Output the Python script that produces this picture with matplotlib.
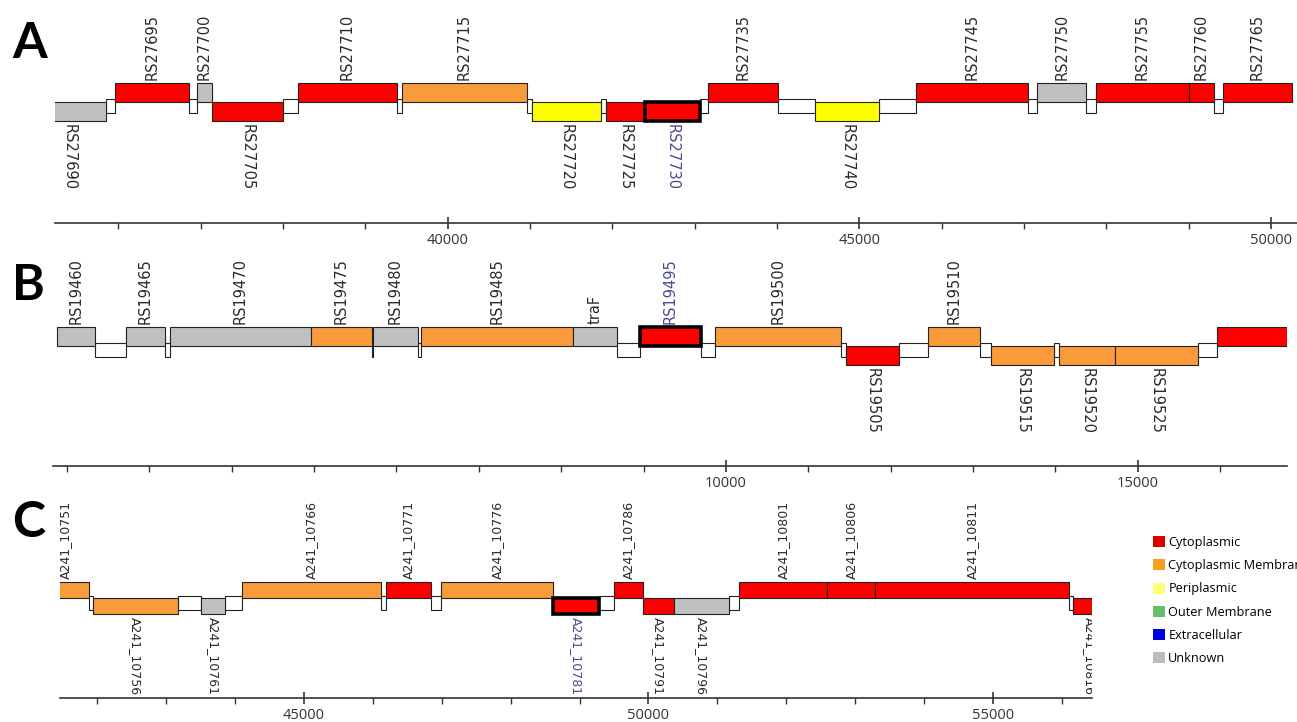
import matplotlib
matplotlib.use('Agg')
import matplotlib.pyplot as plt
from matplotlib.patches import Rectangle, Patch
from matplotlib.ticker import MultipleLocator, FixedLocator, StrMethodFormatter

# -- Localisation categories and colours.
loc_names = ['Cytoplasmic', 'Cytoplasmic Membrane', 'Periplasmic',
             'Outer Membrane', 'Extracellular', 'Unknown']
legend_colors = ['#dd0000', '#f5a020', '#ffff77', '#66c06a', '#0000dd', '#bcbcbc']
box_colors = {'Cytoplasmic': '#ff0000', 'Cytoplasmic Membrane': '#f99b3b',
              'Periplasmic': '#ffff00', 'Outer Membrane': '#66c06a',
              'Extracellular': '#0000dd', 'Unknown': '#c0c0c0'}

CYT, MEM, PER, UNK = 'Cytoplasmic', 'Cytoplasmic Membrane', 'Periplasmic', 'Unknown'

# -- Panel A.
a_names = ['RS27690', 'RS27695', 'RS27700', 'RS27705', 'RS27710', 'RS27715',
           'RS27720', 'RS27725', 'RS27730', 'RS27735', 'RS27740', 'RS27745',
           'RS27750', 'RS27755', 'RS27760', 'RS27765']
a_start = [34950, 35959, 36954, 37136, 38180, 39442, 41019, 41917, 42391,
           43167, 44466, 45692, 47160, 47876, 49005, 49417]
a_end = [35850, 36857, 37136, 37998, 39381, 40959, 41857, 42391, 43070,
         44017, 45243, 47051, 47755, 49005, 49308, 50250]
a_strand = [-1, 1, 1, -1, 1, 1, -1, -1, -1, 1, -1, 1, 1, 1, 1, 1]
a_loc = [UNK, CYT, UNK, CYT, CYT, MEM, PER, CYT, CYT, CYT, PER, CYT,
         UNK, CYT, CYT, CYT]
a_selected = 'RS27730'
a_major = [40000, 45000, 50000]

# -- Panel B.
b_names = ['RS19460', 'RS19465', 'RS19470', 'RS19475', 'RS19480', 'RS19485',
           'traF', 'RS19495', 'RS19500', 'RS19505', 'RS19510', 'RS19515',
           'RS19520', 'RS19525', '']
b_start = [1881, 2718, 3252, 4964, 5712, 6299, 8143, 8956, 9867, 11456,
           12451, 13216, 14041, 14721, 15959]
b_end = [2342, 3192, 4964, 5704, 6262, 8143, 8677, 9697, 11396, 12100,
         13083, 13981, 14721, 15728, 16808]
b_strand = [1, 1, 1, 1, 1, 1, 1, 1, 1, -1, 1, -1, -1, -1, 1]
b_loc = [UNK, UNK, UNK, MEM, UNK, MEM, UNK, CYT, MEM, CYT, MEM, MEM,
         MEM, MEM, CYT]
b_selected = 'RS19495'
b_major = [10000, 15000]

# -- Panel C.
c_names = ['A241_10751', 'A241_10756', 'A241_10761', 'A241_10766',
           'A241_10771', 'A241_10776', 'A241_10781', 'A241_10786',
           'A241_10791', 'A241_10796', 'A241_10801', 'A241_10806',
           'A241_10811', 'A241_10816']
c_start = [41210, 41938, 43505, 44100, 46190, 46988, 48614, 49499, 49920,
           50370, 51313, 52591, 53287, 56161]
c_end = [41880, 43171, 43853, 46118, 46843, 48614, 49282, 49920, 50370,
         51168, 52591, 53287, 56103, 56650]
c_strand = [1, -1, -1, 1, 1, 1, -1, 1, -1, -1, 1, 1, 1, -1]
c_loc = [MEM, MEM, UNK, MEM, CYT, MEM, CYT, CYT, CYT, UNK, CYT, CYT,
         CYT, CYT]
c_selected = 'A241_10781'
c_major = [45000, 50000, 55000]

# -- Figure, laid out in pixels.
W, H = 1297, 722
fig = plt.figure(figsize=(W / 100, H / 100), dpi=100)
fig.patch.set_facecolor('white')


def draw_panel(names, start, end, strand, loc, selected, major, xlim, xpx, ypx,
               boxes, white, fsize, letter, letter_y):
    x0, x1 = xpx
    top, axis_y = ypx
    ax = fig.add_axes([x0 / W, 1 - axis_y / H, (x1 - x0) / W, (axis_y - top) / H])
    ax.set_xlim(*xlim)
    ax.set_ylim(axis_y, top)
    ax.patch.set_alpha(0)
    box_top, box_mid, box_bot = boxes

    # intergenic regions
    for i in range(len(names) - 1):
        if start[i + 1] > end[i]:
            ax.add_patch(Rectangle((end[i], white[0]), start[i + 1] - end[i],
                                   white[1] - white[0], facecolor='white',
                                   edgecolor='#222222', lw=0.8, zorder=1))

    for n, s, e, st, lc in zip(names, start, end, strand, loc):
        y = box_top if st > 0 else box_mid
        sel = (n == selected)
        ax.add_patch(Rectangle((s, y), e - s, box_mid - box_top,
                               facecolor=box_colors[lc], edgecolor='black' if sel else '#222222',
                               lw=2.6 if sel else 0.8, zorder=4 if sel else 2))
        if not n:
            continue
        col = '#4a4a90' if sel else '#2a2a2a'
        xc = (s + e) / 2
        if st > 0:
            ax.text(xc, box_top - 3, n, rotation=90, ha='center', va='bottom',
                    fontsize=fsize, color=col, clip_on=True, zorder=5)
        else:
            ax.text(xc, box_bot + 3, n, rotation=270, ha='center', va='top',
                    fontsize=fsize, color=col, clip_on=True, zorder=5)

    for side in ['top', 'left', 'right']:
        ax.spines[side].set_visible(False)
    ax.spines['bottom'].set_color('#333333')
    ax.spines['bottom'].set_linewidth(1.2)
    ax.set_yticks([])
    ax.xaxis.set_major_locator(FixedLocator(major))
    ax.xaxis.set_minor_locator(MultipleLocator(1000))
    ax.xaxis.set_major_formatter(StrMethodFormatter('{x:.0f}'))
    ax.tick_params(axis='x', which='major', direction='inout', length=9,
                   width=1.2, pad=3, labelsize=10.5, colors='#333333')
    ax.tick_params(axis='x', which='minor', direction='out', length=4,
                   width=1.0, colors='#333333')
    for t in ax.get_xticklabels():
        t.set_fontfamily('Open Sans')

    fig.text(12 / W, 1 - letter_y / H, letter, fontsize=36, fontweight='bold',
             family='Lato', va='baseline', ha='left')
    return ax


draw_panel(a_names, a_start, a_end, a_strand, a_loc, a_selected, a_major,
           (35230, 50316), (55, 1297), (0, 223), (83, 102, 121), (99, 113),
           10.5, 'A', 58)
draw_panel(b_names, b_start, b_end, b_strand, b_loc, b_selected, b_major,
           (1832, 16810), (53, 1287), (240, 466), (327, 346, 365), (343, 357),
           10.5, 'B', 300)
draw_panel(c_names, c_start, c_end, c_strand, c_loc, c_selected, c_major,
           (41459, 56437), (60, 1092), (488, 698), (582, 598, 614), (596, 610),
           9, 'C', 537)

# -- Legend (the long entry runs off the right edge, as in the original).
handles = [Patch(facecolor=c, edgecolor='none') for c in legend_colors]
fig.legend(handles, loc_names, loc='upper left',
           bbox_to_anchor=(1153 / W, 1 - 536 / H), frameon=False,
           prop={'family': 'Open Sans', 'size': 9.2},
           handlelength=0.95, handleheight=0.95, handletextpad=0.25,
           labelspacing=0.8, borderaxespad=0, borderpad=0)

fig.savefig('out.png', dpi=100)
